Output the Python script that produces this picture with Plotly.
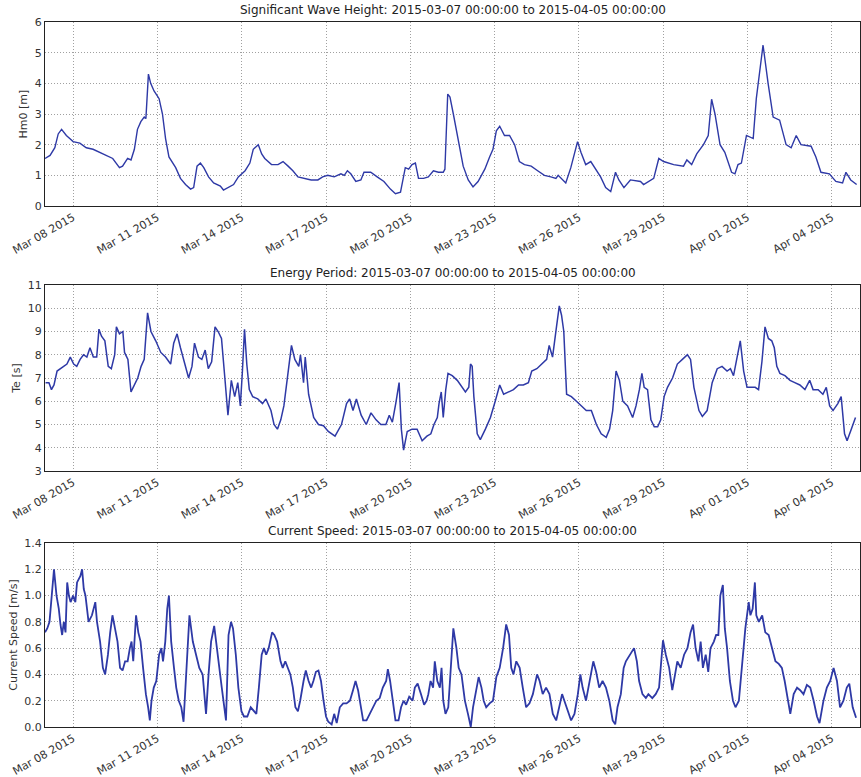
import pandas as pd
import plotly.graph_objects as go

START = "2015-03-07"
TITLE_RANGE = "2015-03-07 00:00:00 to 2015-04-05 00:00:00"

# ---- Significant wave height (days since start, value) ----
hm0_days = [0.00, 0.18, 0.35, 0.47, 0.59, 0.76, 0.88, 1.00, 1.24, 1.47, 1.71, 1.94, 2.18, 2.41, 2.53, 2.65,
            2.76, 2.94, 3.06, 3.18, 3.29, 3.41, 3.53, 3.59, 3.68, 3.76, 3.88, 4.06, 4.18, 4.29, 4.41, 4.53,
            4.65, 4.82, 5.00, 5.18, 5.29, 5.41, 5.53, 5.65, 5.82, 6.00, 6.24, 6.35, 6.53, 6.71, 6.88, 7.12,
            7.29, 7.41, 7.59, 7.71, 7.82, 8.06, 8.29, 8.47, 8.65, 8.82, 9.00, 9.24, 9.47, 9.71, 9.88, 10.06,
            10.29, 10.53, 10.65, 10.76, 10.88, 11.06, 11.24, 11.35, 11.59, 11.82, 12.06, 12.29, 12.47, 12.65,
            12.82, 12.94, 13.06, 13.18, 13.29, 13.47, 13.64, 13.82, 14.00, 14.17, 14.23, 14.33, 14.41, 14.53,
            14.70, 14.88, 15.06, 15.23, 15.41, 15.65, 15.82, 15.94, 16.06, 16.18, 16.35, 16.53, 16.71, 16.88,
            17.06, 17.30, 17.53, 17.77, 18.00, 18.18, 18.26, 18.42, 18.53, 18.71, 18.95, 19.07, 19.24, 19.42,
            19.60, 19.77, 19.95, 20.13, 20.30, 20.42, 20.60, 20.83, 21.19, 21.30, 21.66, 21.84, 22.01, 22.37,
            22.72, 22.84, 23.01, 23.19, 23.43, 23.60, 23.72, 23.84, 24.02, 24.19, 24.43, 24.55, 24.66, 24.78,
            24.96, 25.20, 25.31, 25.55, 25.73, 25.91, 26.14, 26.26, 26.37, 26.55, 26.73, 26.90, 27.26, 27.43,
            27.61, 27.91, 28.14, 28.38, 28.50, 28.67, 28.88]
hm0_vals = [1.55, 1.65, 1.9, 2.35, 2.5, 2.3, 2.2, 2.1, 2.05, 1.9, 1.85, 1.75, 1.65, 1.55, 1.4, 1.25,
            1.3, 1.55, 1.5, 1.85, 2.5, 2.75, 2.9, 2.85, 4.3, 4.0, 3.75, 3.5, 3.0, 2.2, 1.6, 1.4,
            1.25, 0.9, 0.7, 0.55, 0.6, 1.3, 1.4, 1.25, 0.95, 0.75, 0.65, 0.52, 0.6, 0.7, 0.95, 1.15,
            1.4, 1.85, 2.0, 1.7, 1.55, 1.35, 1.35, 1.45, 1.3, 1.15, 0.95, 0.9, 0.85, 0.85, 0.95, 1.0,
            0.95, 1.05, 1.0, 1.15, 1.05, 0.8, 0.85, 1.1, 1.1, 0.95, 0.8, 0.55, 0.4, 0.45,
            1.25, 1.2, 1.35, 1.4, 0.9, 0.9, 0.95, 1.15, 1.1, 1.1, 1.2, 3.65, 3.55, 3.0,
            2.2, 1.3, 0.85, 0.62, 0.8, 1.2, 1.6, 1.85, 2.45, 2.6, 2.3, 2.3, 2.0, 1.45,
            1.35, 1.3, 1.15, 1.0, 0.95, 0.9, 1.0, 0.85, 0.75, 1.25, 2.1, 1.75, 1.35, 1.45,
            1.2, 0.95, 0.6, 0.47, 1.1, 0.85, 0.6, 0.85, 0.8, 0.7, 0.9, 1.55, 1.45, 1.35,
            1.3, 1.5, 1.35, 1.7, 2.0, 2.3, 3.48, 3.0, 2.0, 1.75, 1.1, 1.05, 1.35, 1.4,
            2.3, 2.2, 3.5, 5.25, 4.0, 2.9, 2.8, 2.4, 2.0, 1.9, 2.3, 2.0, 1.95, 1.6,
            1.1, 1.05, 0.8, 0.75, 1.1, 0.85, 0.7]

# ---- Energy period ----
te_days = [0.02, 0.14, 0.23, 0.32, 0.43, 0.55, 0.67, 0.78, 0.90, 1.02, 1.13, 1.25, 1.37, 1.49, 1.60, 1.72,
           1.84, 1.92, 2.01, 2.13, 2.25, 2.36, 2.48, 2.54, 2.65, 2.77, 2.83, 2.95, 3.06, 3.18, 3.30, 3.42,
           3.53, 3.65, 3.77, 3.94, 4.12, 4.29, 4.47, 4.58, 4.70, 4.82, 4.99, 5.11, 5.23, 5.32, 5.46, 5.58,
           5.70, 5.81, 5.93, 6.05, 6.16, 6.28, 6.40, 6.51, 6.63, 6.75, 6.86, 6.95, 7.02, 7.10, 7.18, 7.27,
           7.39, 7.57, 7.74, 7.86, 8.04, 8.15, 8.27, 8.39, 8.50, 8.62, 8.77, 8.89, 9.03, 9.09, 9.20, 9.26,
           9.38, 9.56, 9.73, 9.91, 10.08, 10.32, 10.55, 10.73, 10.84, 10.96, 11.08, 11.25, 11.43, 11.60,
           11.78, 11.95, 12.13, 12.25, 12.36, 12.48, 12.60, 12.68, 12.76, 12.89, 13.06, 13.24, 13.42, 13.59,
           13.73, 13.84, 13.96, 14.02, 14.10, 14.17, 14.26, 14.34, 14.49, 14.67, 14.85, 14.96, 15.08, 15.14,
           15.20, 15.26, 15.38, 15.49, 15.67, 15.85, 16.02, 16.18, 16.32, 16.49, 16.67, 16.85, 17.02, 17.20,
           17.32, 17.50, 17.67, 17.85, 17.94, 18.06, 18.20, 18.30, 18.38, 18.46, 18.56, 18.73, 18.91, 19.09,
           19.26, 19.44, 19.62, 19.79, 19.97, 20.09, 20.20, 20.32, 20.44, 20.56, 20.73, 20.91, 21.03, 21.15,
           21.24, 21.32, 21.44, 21.56, 21.68, 21.80, 21.91, 22.03, 22.15, 22.33, 22.50, 22.68, 22.86, 22.97,
           23.09, 23.27, 23.39, 23.56, 23.74, 23.92, 24.09, 24.27, 24.39, 24.50, 24.62, 24.74, 24.86, 24.98,
           25.09, 25.27, 25.39, 25.51, 25.62, 25.74, 25.86, 25.95, 26.04, 26.15, 26.33, 26.51, 26.68, 26.86,
           27.04, 27.21, 27.33, 27.51, 27.68, 27.80, 27.92, 28.04, 28.21, 28.33, 28.45, 28.54, 28.69, 28.84]
te_vals = [6.8, 6.8, 6.5, 6.7, 7.3, 7.4, 7.5, 7.6, 7.9, 7.6, 7.5, 7.8, 8.0, 7.9, 8.3, 7.9,
           7.9, 9.1, 8.8, 8.6, 7.5, 7.4, 8.0, 9.2, 8.9, 9.0, 8.1, 7.8, 6.4, 6.7, 7.0, 7.5,
           7.8, 9.8, 9.0, 8.6, 8.1, 7.9, 7.6, 8.5, 8.9, 8.3, 7.6, 7.0, 7.5, 8.5, 7.9, 7.8,
           8.2, 7.4, 7.7, 9.2, 9.0, 8.7, 7.0, 5.4, 6.9, 6.2, 6.8, 5.8, 7.2, 9.1, 7.6, 6.5,
           6.2, 6.1, 5.9, 6.1, 5.6, 5.0, 4.8, 5.2, 5.8, 7.0, 8.4, 7.8, 7.5, 8.0, 6.8, 7.9,
           6.3, 5.3, 5.0, 4.95, 4.7, 4.5, 5.0, 5.9, 6.1, 5.6, 6.1, 5.4, 5.0, 5.5,
           5.2, 5.0, 5.0, 5.4, 5.1, 5.9, 6.8, 4.8, 3.9, 4.7, 4.8, 4.8, 4.3, 4.5,
           4.6, 5.0, 5.3, 5.9, 6.4, 5.3, 6.5, 7.2, 7.1, 6.9, 6.6, 6.4, 6.6, 7.6,
           7.5, 6.2, 4.6, 4.35, 4.8, 5.3, 6.0, 6.7, 6.3, 6.4, 6.5, 6.7, 6.7, 6.8,
           7.3, 7.4, 7.6, 7.8, 8.4, 7.9, 9.2, 10.1, 9.7, 9.0, 6.3, 6.2, 6.0, 5.8,
           5.6, 5.6, 5.0, 4.6, 4.45, 4.8, 5.6, 7.3, 6.9, 6.0, 5.8, 5.3, 5.8, 6.5,
           7.2, 6.6, 6.5, 5.2, 4.9, 4.9, 5.2, 6.2, 6.6, 7.0, 7.6, 7.8, 8.0, 7.8,
           6.6, 5.6, 5.35, 5.6, 6.8, 7.4, 7.5, 7.3, 7.4, 7.1, 7.8, 8.6, 7.3, 6.6,
           6.6, 6.6, 6.5, 7.7, 9.2, 8.7, 8.6, 8.3, 7.5, 7.2, 7.1, 6.9, 6.8, 6.7,
           6.5, 6.9, 6.5, 6.5, 6.3, 6.6, 5.8, 5.6, 5.9, 6.2, 4.6, 4.3, 4.8, 5.3]

# ---- Current speed ----
cs_days = [0.00, 0.08, 0.16, 0.26, 0.32, 0.41, 0.49, 0.55, 0.61, 0.67, 0.73, 0.79, 0.85, 0.91, 1.00, 1.08,
           1.14, 1.26, 1.32, 1.38, 1.44, 1.55, 1.67, 1.79, 1.85, 1.96, 2.06, 2.14, 2.24, 2.32, 2.40, 2.49,
           2.58, 2.67, 2.76, 2.85, 2.94, 3.02, 3.08, 3.14, 3.24, 3.32, 3.40, 3.49, 3.59, 3.67, 3.73, 3.79,
           3.87, 3.96, 4.06, 4.14, 4.20, 4.28, 4.35, 4.41, 4.49, 4.59, 4.67, 4.76, 4.85, 4.93, 5.02, 5.14,
           5.26, 5.38, 5.49, 5.61, 5.73, 5.82, 5.91, 6.02, 6.11, 6.20, 6.29, 6.38, 6.44, 6.53, 6.62, 6.69,
           6.79, 6.88, 6.99, 7.08, 7.20, 7.32, 7.44, 7.52, 7.61, 7.71, 7.79, 7.87, 7.96, 8.08, 8.16, 8.26,
           8.38, 8.46, 8.55, 8.65, 8.73, 8.82, 8.91, 9.00, 9.08, 9.20, 9.28, 9.38, 9.47, 9.55, 9.64, 9.73,
           9.82, 9.91, 10.00, 10.08, 10.20, 10.29, 10.38, 10.49, 10.61, 10.73, 10.85, 10.96, 11.05, 11.14,
           11.24, 11.32, 11.44, 11.55, 11.67, 11.79, 11.91, 12.02, 12.14, 12.20, 12.28, 12.38, 12.47, 12.58,
           12.67, 12.76, 12.85, 12.96, 13.08, 13.16, 13.26, 13.38, 13.49, 13.58, 13.64, 13.72, 13.81, 13.87,
           13.96, 14.05, 14.11, 14.17, 14.25, 14.35, 14.43, 14.53, 14.64, 14.72, 14.82, 14.94, 15.05, 15.15,
           15.23, 15.35, 15.43, 15.53, 15.61, 15.70, 15.82, 15.94, 16.06, 16.18, 16.30, 16.41, 16.51, 16.59,
           16.67, 16.77, 16.89, 17.00, 17.12, 17.24, 17.36, 17.51, 17.60, 17.71, 17.83, 17.95, 18.07, 18.19,
           18.30, 18.40, 18.48, 18.60, 18.72, 18.84, 18.96, 19.05, 19.13, 19.25, 19.37, 19.51, 19.61, 19.72,
           19.84, 19.96, 20.08, 20.20, 20.29, 20.37, 20.49, 20.59, 20.67, 20.81, 20.96, 21.06, 21.14, 21.26,
           21.38, 21.47, 21.61, 21.73, 21.85, 21.99, 22.09, 22.21, 22.32, 22.42, 22.50, 22.62, 22.74, 22.86,
           22.97, 23.06, 23.15, 23.25, 23.33, 23.41, 23.51, 23.60, 23.68, 23.80, 23.88, 23.96, 24.03, 24.12,
           24.19, 24.27, 24.37, 24.48, 24.57, 24.69, 24.81, 24.92, 25.04, 25.10, 25.18, 25.26, 25.31, 25.40,
           25.52, 25.63, 25.75, 25.87, 25.99, 26.11, 26.22, 26.32, 26.44, 26.52, 26.64, 26.76, 26.87, 26.99,
           27.11, 27.23, 27.35, 27.47, 27.56, 27.70, 27.82, 27.94, 28.06, 28.18, 28.29, 28.41, 28.53, 28.62,
           28.74, 28.86]
cs_vals = [0.72, 0.75, 0.8, 1.05, 1.2, 1.0, 0.9, 0.78, 0.7, 0.8, 0.72, 1.1, 1.0, 0.95, 1.0, 0.95,
           1.1, 1.15, 1.2, 1.05, 1.0, 0.8, 0.85, 0.95, 0.8, 0.65, 0.45, 0.4, 0.55, 0.72, 0.85, 0.75,
           0.65, 0.45, 0.43, 0.5, 0.5, 0.6, 0.65, 0.5, 0.85, 0.72, 0.65, 0.45, 0.25, 0.15, 0.05, 0.2,
           0.3, 0.35, 0.55, 0.6, 0.5, 0.65, 0.9, 1.0, 0.65, 0.45, 0.3, 0.2, 0.15, 0.04, 0.35, 0.85,
           0.65, 0.55, 0.45, 0.4, 0.1, 0.4, 0.65, 0.77, 0.6, 0.45, 0.3, 0.15, 0.05, 0.7, 0.8, 0.75,
           0.55, 0.3, 0.12, 0.08, 0.08, 0.15, 0.12, 0.1, 0.3, 0.55, 0.6, 0.55, 0.6, 0.72, 0.7, 0.65,
           0.5, 0.45, 0.5, 0.45, 0.4, 0.3, 0.15, 0.12, 0.2, 0.35, 0.43, 0.35, 0.3, 0.35, 0.42, 0.43,
           0.35, 0.2, 0.08, 0.04, 0.02, 0.1, 0.03, 0.15, 0.18, 0.18, 0.2, 0.28, 0.35, 0.28,
           0.15, 0.05, 0.05, 0.1, 0.15, 0.2, 0.22, 0.3, 0.35, 0.44, 0.35, 0.2, 0.05, 0.05,
           0.15, 0.2, 0.17, 0.23, 0.2, 0.3, 0.33, 0.25, 0.17, 0.2, 0.25, 0.35, 0.3, 0.5,
           0.35, 0.3, 0.45, 0.2, 0.1, 0.15, 0.4, 0.75, 0.6, 0.45, 0.4, 0.2, 0.1, 0.0,
           0.15, 0.3, 0.38, 0.3, 0.2, 0.15, 0.18, 0.2, 0.38, 0.45, 0.6, 0.78, 0.7, 0.45,
           0.4, 0.5, 0.45, 0.3, 0.15, 0.18, 0.25, 0.4, 0.35, 0.25, 0.3, 0.25, 0.1, 0.05,
           0.15, 0.25, 0.2, 0.12, 0.05, 0.1, 0.25, 0.4, 0.3, 0.2, 0.35, 0.5, 0.42, 0.3,
           0.35, 0.3, 0.2, 0.05, 0.02, 0.15, 0.25, 0.45, 0.5, 0.55, 0.6, 0.5, 0.35, 0.25,
           0.22, 0.25, 0.22, 0.25, 0.3, 0.66, 0.55, 0.45, 0.28, 0.4, 0.5, 0.45, 0.55, 0.6,
           0.72, 0.78, 0.6, 0.5, 0.65, 0.45, 0.55, 0.42, 0.6, 0.65, 0.7, 0.7, 1.0, 1.08,
           0.75, 0.6, 0.35, 0.2, 0.15, 0.2, 0.5, 0.75, 0.95, 0.85, 0.9, 1.1, 0.85, 0.8,
           0.85, 0.72, 0.7, 0.6, 0.5, 0.48, 0.45, 0.35, 0.2, 0.1, 0.25, 0.3, 0.28, 0.25,
           0.32, 0.3, 0.2, 0.08, 0.03, 0.2, 0.3, 0.35, 0.45, 0.35, 0.15, 0.2, 0.3, 0.33,
           0.15, 0.07]

panels = [
    ("Significant Wave Height", "Hm0 [m]", hm0_days, hm0_vals, [0, 6], 1, None, 1.4),
    ("Energy Period", "Te [s]", te_days, te_vals, [3, 11], 1, None, 1.5),
    ("Current Speed", "Current Speed [m/s]", cs_days, cs_vals, [0, 1.4], 0.2, ".1f", 1.8),
]

H = 777.0
px_domains = [(22, 206), (285, 471), (543, 727)]
LINE_COLOR = "#2e39a6"
FONT = "DejaVu Sans"
GRID = "#a0a0a0"

fig = go.Figure()
start = pd.Timestamp(START)
tickvals = [start + pd.Timedelta(days=d) for d in range(1, 29, 3)]

for i, (name, ylabel, days, vals, yr, dtick, fmt, lw) in enumerate(panels):
    n = i + 1
    sfx = "" if n == 1 else str(n)
    xs = [start + pd.Timedelta(days=d) for d in days]
    fig.add_trace(go.Scatter(x=xs, y=vals, mode="lines",
                             line=dict(color=LINE_COLOR, width=lw),
                             xaxis=f"x{sfx}", yaxis=f"y{sfx}", showlegend=False))
    top, bot = px_domains[i]
    dom = [1 - bot / H, 1 - top / H]
    fig.layout[f"xaxis{sfx}"] = dict(
        domain=[0, 1], anchor=f"y{sfx}",
        range=[start, start + pd.Timedelta(days=29)],
        tickvals=tickvals, tickformat="%b %d %Y", tickangle=-30,
        showgrid=True, gridcolor=GRID, griddash="1px,2px", gridwidth=1,
        showline=True, linecolor="#222", linewidth=1, mirror=True,
        ticks="", tickfont=dict(family=FONT, size=11, color="#333"),
        zeroline=False, automargin=False,
    )
    fig.layout[f"yaxis{sfx}"] = dict(
        domain=dom, anchor=f"x{sfx}",
        range=yr, dtick=dtick, tick0=yr[0], tickformat=fmt,
        showgrid=True, gridcolor=GRID, griddash="1px,2px", gridwidth=1,
        showline=True, linecolor="#222", linewidth=1, mirror=True,
        ticks="", tickfont=dict(family=FONT, size=11, color="#333"),
        title=dict(text=ylabel, font=dict(family=FONT, size=11, color="#333"), standoff=4),
        zeroline=False, automargin=False,
    )
    fig.add_annotation(text=f"{name}: {TITLE_RANGE}", xref="paper", yref="paper",
                       x=0.5, y=dom[1], yshift=3, xanchor="center", yanchor="bottom",
                       showarrow=False, font=dict(family=FONT, size=12, color="#222"))

fig.update_layout(width=861, height=777, margin=dict(l=45, r=1, t=0, b=0),
                  plot_bgcolor="white", paper_bgcolor="white",
                  font=dict(family=FONT))
fig.write_html("out.html", config={"displayModeBar": False},
               post_script="document.body.style.margin='0';document.body.style.overflow='hidden';")
